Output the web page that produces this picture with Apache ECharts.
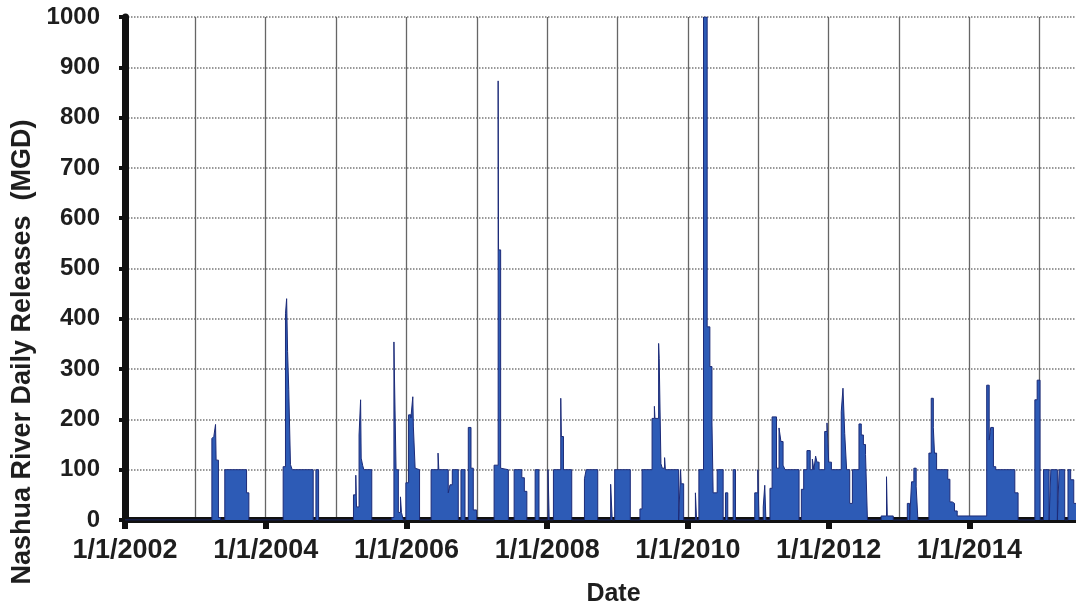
<!DOCTYPE html>
<html>
<head>
<meta charset="utf-8">
<script src="https://cdn.jsdelivr.net/npm/echarts@6/dist/echarts.min.js"></script>
<style>
  html, body { margin: 0; padding: 0; background: #fff; }
  #chart { width: 1076px; height: 609px; }
</style>
</head>
<body>
<div id="chart"></div>
<script>
// 日期 + 数值：每一项是放流量发生变化的日期（阶梯图，值保持到下一个日期）
var releaseDates = [
  '2002-01-01',
  '2003-03-28', '2003-04-07', '2003-04-16', '2003-04-19', '2003-05-01', '2003-05-12',
  '2003-06-03', '2003-09-24', '2003-10-06',
  '2004-04-01', '2004-04-13', '2004-04-19', '2004-04-24', '2004-04-30', '2004-05-09', '2004-05-18',
  '2004-09-04', '2004-09-18', '2004-10-02',
  '2005-04-01', '2005-04-13', '2005-04-17', '2005-04-30', '2005-05-08', '2005-05-11', '2005-05-19',
  '2005-05-25', '2005-07-05',
  '2005-10-17', '2005-10-28', '2005-10-30', '2005-11-08', '2005-11-20', '2005-12-01', '2005-12-06',
  '2005-12-16', '2005-12-29',
  '2006-01-12', '2006-01-24', '2006-02-03', '2006-02-06', '2006-02-15', '2006-02-21', '2006-03-10',
  '2006-05-09', '2006-06-14', '2006-06-18', '2006-08-06', '2006-08-15', '2006-08-27', '2006-09-27',
  '2006-10-11', '2006-11-01', '2006-11-18', '2006-12-02', '2006-12-14', '2006-12-31',
  '2007-04-01', '2007-04-22', '2007-04-24', '2007-05-05', '2007-05-10', '2007-06-14',
  '2007-07-14', '2007-08-23', '2007-09-05', '2007-09-18', '2007-10-31', '2007-11-20',
  '2008-01-06', '2008-01-12', '2008-02-03', '2008-03-12', '2008-03-15', '2008-03-26', '2008-05-08',
  '2008-07-13', '2008-07-22', '2008-09-20', '2008-11-26', '2008-12-04', '2008-12-17',
  '2009-03-08', '2009-04-27', '2009-05-08', '2009-06-29', '2009-07-11', '2009-07-14', '2009-08-02',
  '2009-08-05', '2009-08-14', '2009-08-21', '2009-09-02', '2009-09-06', '2009-11-14', '2009-11-24',
  '2009-11-27', '2009-12-10',
  '2010-02-09', '2010-02-15', '2010-02-27', '2010-03-23', '2010-04-11', '2010-04-25', '2010-05-06',
  '2010-05-12', '2010-06-02', '2010-07-03', '2010-07-15', '2010-07-27', '2010-08-24', '2010-09-05',
  '2010-12-14', '2010-12-30',
  '2011-01-05', '2011-01-27', '2011-02-04', '2011-02-10', '2011-03-03', '2011-03-14', '2011-04-06',
  '2011-04-19', '2011-04-29', '2011-05-10', '2011-05-20', '2011-08-01', '2011-08-13', '2011-08-25',
  '2011-09-11', '2011-09-28', '2011-10-09', '2011-10-17', '2011-10-26', '2011-11-02', '2011-11-13',
  '2011-12-12', '2011-12-24',
  '2012-01-02', '2012-01-16', '2012-03-07', '2012-03-16', '2012-03-25', '2012-04-04', '2012-04-20',
  '2012-05-04', '2012-06-07', '2012-06-19', '2012-06-30', '2012-07-11', '2012-07-21',
  '2012-09-30', '2012-10-28', '2012-11-01', '2012-12-02',
  '2013-02-13', '2013-02-25', '2013-03-07', '2013-03-19', '2013-03-31', '2013-04-09',
  '2013-06-05', '2013-06-17', '2013-06-28', '2013-07-04', '2013-07-15', '2013-09-11', '2013-09-22',
  '2013-10-04', '2013-10-16', '2013-10-30',
  '2014-04-01', '2014-04-14', '2014-04-22', '2014-05-06', '2014-05-18', '2014-08-25', '2014-09-11',
  '2014-12-07', '2014-12-19',
  '2015-01-03', '2015-01-21', '2015-02-19', '2015-02-28', '2015-04-03', '2015-04-12', '2015-05-11',
  '2015-05-28', '2015-06-11', '2015-06-27', '2015-07-19'
];
var releaseValues = [
  0,
  162, 166, 190, 119, 5, 0,
  100, 54, 0,
  106, 410, 440, 335, 260, 110, 100,
  0, 100, 0,
  50, 89, 26, 169, 239, 123, 108,
  100, 0,
  5, 354, 301, 100, 15, 46, 15,
  0, 74,
  209, 203, 245, 185, 103, 100, 0,
  100, 133, 100, 54, 70, 100, 0,
  100, 0, 184, 103, 20, 0,
  109, 873, 537, 103, 100, 0,
  100, 84, 57, 0, 100, 0,
  100, 0, 100, 242, 166, 100, 0,
  82, 100, 0, 71, 0, 100,
  0, 22, 100, 202, 226, 202, 351,
  321, 112, 103, 124, 100, 0, 100,
  72, 0,
  54, 0, 100, 1000, 384, 305, 193,
  54, 100, 0, 54, 0, 100, 0,
  54, 100,
  0, 26, 69, 0, 63, 205, 103,
  183, 156, 109, 100, 0, 61, 100,
  138, 100, 121, 100, 127, 115, 100,
  176, 193,
  115, 100, 215, 262, 172, 100, 33,
  100, 191, 169, 150, 130, 0,
  8, 86, 8, 0,
  33, 0, 76, 103, 66, 0,
  133, 242, 184, 133, 100, 81, 36,
  33, 18, 8,
  268, 159, 184, 106, 100, 54, 0,
  239, 278,
  0, 100, 0, 100, 0, 100, 0,
  100, 80, 33, 33
];
var xStart = '2002-01-01';
var xEnd = '2015-07-19';

var DAY = 86400000;
var chartFont = 'Liberation Sans, Arial, sans-serif';

var seriesData = releaseDates.map(function (d, i) {
    return [Date.parse(d), releaseValues[i]];
});

var myChart = echarts.init(document.getElementById('chart'));

var option = {
    backgroundColor: '#ffffff',
    animation: false,
    grid: {
        left: 125,
        right: -2,
        top: 17,
        bottom: 89,
        outerBoundsMode: 'none'
    },
    xAxis: [{
        // 刻度和标签：每两年一个 1/1/yyyy
        type: 'value',
        position: 'bottom',
        min: Date.parse(xStart),
        max: Date.parse(xEnd),
        interval: 730.5 * DAY,
        name: 'Date',
        nameLocation: 'middle',
        nameGap: 62,
        nameTextStyle: {
            fontFamily: chartFont,
            fontSize: 25,
            fontWeight: 'bold',
            color: '#1e1e1e',
            padding: [0, 0, 0, 24]
        },
        axisLine: { show: true, lineStyle: { color: '#111', width: 6 } },
        axisTick: { show: true, length: 9, lineStyle: { color: '#111', width: 6 } },
        axisLabel: {
            margin: 17,
            fontFamily: chartFont,
            fontSize: 27,
            fontWeight: 'bold',
            color: '#1e1e1e',
            showMaxLabel: false,
            formatter: function (v) {
                return '1/1/' + new Date(v).getUTCFullYear();
            }
        },
        splitLine: { show: false }
    }, {
        // 每年一条竖网格线
        type: 'value',
        position: 'bottom',
        min: Date.parse(xStart),
        max: Date.parse(xEnd),
        interval: 365.25 * DAY,
        axisLine: { show: false },
        axisTick: { show: false },
        axisLabel: { show: false },
        splitLine: { show: true, lineStyle: { color: '#666', width: 1.3 } }
    }],
    yAxis: {
        type: 'value',
        min: 0,
        max: 1000,
        interval: 100,
        axisLine: { show: true, lineStyle: { color: '#111', width: 7 } },
        axisTick: { show: true, length: 6, lineStyle: { color: '#111', width: 4 } },
        axisLabel: {
            margin: 25,
            fontFamily: chartFont,
            fontSize: 24,
            fontWeight: 'bold',
            color: '#1e1e1e',
            formatter: function (v) { return String(v); }
        },
        splitLine: { show: true, lineStyle: { color: '#777', width: 1.5, type: 'dotted' } }
    },
    graphic: [{
        type: 'text',
        x: 23,
        y: 352,
        rotation: Math.PI / 2,
        style: {
            text: 'Nashua River Daily Releases  (MGD)',
            fontFamily: chartFont,
            fontSize: 27,
            fontWeight: 'bold',
            fill: '#1e1e1e',
            align: 'center',
            verticalAlign: 'middle'
        }
    }],
    series: [{
        name: 'Daily Releases',
        type: 'line',
        xAxisIndex: 0,
        step: 'end',
        symbol: 'none',
        data: seriesData,
        lineStyle: { color: '#1c2b78', width: 1 },
        areaStyle: { color: '#2d5bb6', opacity: 1 },
        z: 3
    }]
};

myChart.setOption(option);
</script>
</body>
</html>
